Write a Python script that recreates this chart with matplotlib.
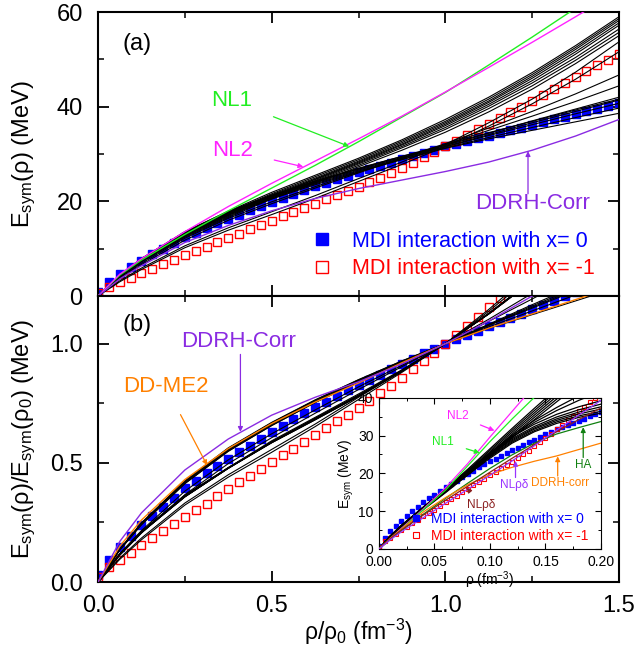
import numpy as np
import matplotlib.pyplot as plt
from matplotlib.ticker import MultipleLocator, FormatStrFormatter

plt.rcParams['font.family'] = ['Liberation Sans', 'DejaVu Sans']
plt.rcParams['mathtext.fontset'] = 'custom'
plt.rcParams['mathtext.rm'] = 'Liberation Sans'
plt.rcParams['mathtext.it'] = 'Liberation Sans:italic'
plt.rcParams['mathtext.default'] = 'regular'

rho0 = 0.16
# MDI points, density step 0.005 fm^-3
rho_mdi = np.arange(49) * 0.005
esym_x0 = [0.9, 2.9, 4.7, 6.1, 7.5, 8.8, 10.0, 11.2, 12.4, 13.4, 14.4, 15.4, 16.3,
           17.2, 18.1, 19.0, 19.9, 20.75, 21.55, 22.35, 23.15, 23.9, 24.65, 25.4,
           26.1, 26.8, 27.5, 28.2, 28.9, 29.6, 30.3, 30.95, 31.6, 32.2, 32.75, 33.3,
           33.9, 34.5, 35.05, 35.6, 36.2, 36.75, 37.3, 37.9, 38.45, 39.0, 39.6, 40.15, 40.7]
esym_xm1 = [0.6, 2.0, 2.9, 3.9, 4.9, 5.8, 6.8, 7.7, 8.6, 9.5, 10.4, 11.4, 12.3, 13.2,
            14.1, 15.0, 15.9, 16.8, 17.7, 18.6, 19.5, 20.4, 21.3, 22.2, 23.1, 24.0,
            25.0, 26.0, 27.1, 28.2, 29.3, 30.4, 31.6, 32.8, 34.0, 35.2, 36.4, 37.6,
            38.8, 40.0, 41.3, 42.5, 43.7, 44.9, 46.2, 47.5, 48.7, 49.9, 51.2]

# other models, E_sym (MeV) at rho/rho0 =
u_grid = [0, 0.0625, 0.125, 0.25, 0.375, 0.5, 0.625, 0.75, 0.875, 1.0,
          1.125, 1.25, 1.375, 1.5]
black_a = [
    [0, 4.4, 7.9, 13.6, 17.9, 21.9, 25.5, 29.1, 33.0, 37.3, 42.0, 47.2, 52.9, 59.0],
    [0, 4.3, 7.8, 13.4, 17.7, 21.6, 25.2, 28.8, 32.7, 36.9, 41.6, 46.8, 52.5, 58.6],
    [0, 4.3, 7.7, 13.2, 17.5, 21.4, 24.9, 28.5, 32.4, 36.6, 41.2, 46.4, 52.1, 58.2],
    [0, 4.2, 7.6, 13.0, 17.3, 21.2, 24.7, 28.3, 32.1, 36.3, 40.9, 46.0, 51.6, 57.7],
    [0, 4.2, 7.5, 12.9, 17.2, 21.1, 24.6, 28.1, 31.9, 36.0, 40.5, 45.5, 51.1, 57.2],
    [0, 4.1, 7.4, 12.7, 17.0, 20.9, 24.4, 27.9, 31.6, 35.6, 40.1, 45.0, 50.4, 56.4],
    [0, 4.0, 7.3, 12.6, 16.8, 20.7, 24.2, 27.6, 31.3, 35.2, 39.6, 44.4, 49.8, 55.7],
    [0, 4.0, 7.2, 12.4, 16.6, 20.5, 23.9, 27.3, 30.8, 34.6, 38.9, 43.7, 49.1, 55.0],
    [0, 4.4, 7.9, 13.5, 17.9, 21.3, 24.3, 27.0, 29.5, 31.8, 34.4, 37.0, 39.5, 42.0],
    [0, 4.3, 7.8, 13.3, 17.7, 21.1, 24.1, 26.8, 29.3, 31.6, 34.1, 36.6, 39.0, 41.4],
    [0, 4.3, 7.7, 13.2, 17.5, 20.9, 23.9, 26.6, 29.1, 31.5, 33.9, 36.2, 38.5, 40.7],
    [0, 4.2, 7.6, 13.0, 17.3, 20.7, 23.7, 26.4, 28.9, 31.3, 33.5, 35.6, 37.7, 39.7],
    [0, 4.2, 7.5, 12.9, 17.1, 20.5, 23.5, 26.2, 28.8, 31.2, 33.2, 35.0, 36.8, 38.6],
    [0, 4.3, 7.7, 13.2, 17.6, 21.0, 24.1, 26.9, 29.5, 32.0, 34.5, 36.9, 39.3, 41.6],
    [0, 3.6, 6.6, 11.8, 16.0, 19.5, 22.8, 26.0, 29.1, 32.2, 35.5, 39.0, 42.7, 46.7],
    [0, 3.8, 6.9, 12.2, 16.4, 19.9, 23.1, 26.2, 29.1, 32.0, 35.0, 38.0, 41.1, 44.4],
    [0, 3.0, 5.6, 10.2, 13.9, 17.2, 20.6, 24.2, 27.8, 31.6, 35.9, 40.6, 45.8, 51.6],
    [0, 3.2, 5.9, 10.6, 14.4, 17.8, 21.2, 24.8, 28.3, 32.0, 36.6, 41.6, 47.3, 53.7],
]
nl1_a = [0, 4.4, 7.6, 13.0, 18.0, 22.8, 27.6, 32.6, 37.8, 43.0, 48.8, 54.7, 60.8, 67.0]
nl2_a = [0, 4.6, 7.9, 13.6, 18.9, 23.8, 28.5, 33.2, 38.0, 43.1, 48.3, 53.6, 59.0, 64.5]
ddrh_a = [0, 3.6, 6.4, 11.3, 14.9, 18.0, 20.6, 22.7, 24.5, 26.3, 28.3, 30.8, 33.8, 37.3]

# panel (b) coloured models, already normalised
ddrh_b = [0, 0.17, 0.29, 0.47, 0.60, 0.70, 0.775, 0.84, 0.915, 1.0, 1.095, 1.2,
          1.31, 1.43]
ddme2_b = [0, 0.15, 0.26, 0.43, 0.56, 0.665, 0.755, 0.835, 0.92, 1.0, 1.065, 1.125,
           1.185, 1.245]

# inset, E_sym (MeV) at rho (fm^-3) =
rho_grid = [0, 0.01, 0.02, 0.04, 0.06, 0.08, 0.10, 0.12, 0.14, 0.16, 0.18, 0.20]
black_in = [
    [0, 3.4, 6.2, 11.1, 15.9, 21.1, 26.5, 31.9, 37.2, 42.4, 47.5, 52.5],
    [0, 3.4, 6.1, 11.0, 15.7, 20.8, 26.1, 31.4, 36.6, 41.7, 46.7, 51.6],
    [0, 3.3, 6.0, 10.8, 15.5, 20.5, 25.7, 30.9, 36.0, 41.0, 45.9, 50.7],
    [0, 3.3, 6.0, 10.7, 15.3, 20.2, 25.3, 30.4, 35.4, 40.3, 45.1, 49.8],
    [0, 3.2, 5.9, 10.6, 15.1, 19.9, 24.9, 29.9, 34.8, 39.6, 44.3, 49.0],
    [0, 3.2, 5.8, 10.4, 14.9, 19.6, 24.5, 29.4, 34.2, 38.9, 43.5, 48.0],
    [0, 3.4, 6.2, 11.1, 15.8, 20.7, 25.4, 29.7, 33.0, 35.6, 37.6, 39.2],
    [0, 3.3, 6.1, 11.0, 15.6, 20.4, 25.0, 29.2, 32.4, 34.9, 36.8, 38.3],
    [0, 3.3, 6.0, 10.9, 15.5, 20.2, 24.8, 28.9, 32.0, 34.4, 36.2, 37.6],
    [0, 3.3, 6.0, 10.8, 15.4, 20.0, 24.5, 28.6, 31.7, 34.0, 35.7, 37.0],
    [0, 3.2, 5.9, 10.7, 15.2, 19.8, 24.3, 28.3, 31.3, 33.6, 35.2, 36.4],
    [0, 3.2, 5.9, 10.6, 15.1, 19.6, 24.0, 28.0, 31.0, 33.2, 34.8, 35.9],
    [0, 3.3, 6.1, 10.9, 15.6, 20.5, 25.4, 30.1, 34.0, 37.4, 40.5, 43.5],
    [0, 3.3, 6.0, 10.8, 15.4, 20.2, 25.0, 29.6, 33.5, 36.6, 39.3, 41.6],
]
nl1_in = [0, 2.6, 5.2, 10.4, 15.6, 22.0, 28.4, 34.4, 40.1, 45.8, 51.5, 57.2]
nl2_in = [0, 2.7, 5.4, 10.6, 16.2, 22.6, 29.6, 36.4, 43.2, 50.0, 56.8, 63.6]
ha_in = [0, 2.5, 4.8, 9.2, 13.4, 17.4, 21.3, 24.9, 28.0, 30.4, 32.1, 33.7]
ddrh_in = [0, 2.8, 5.2, 9.8, 13.6, 17.0, 19.7, 21.6, 23.2, 24.6, 26.3, 28.0]
nlrd_in = [0, 2.4, 4.5, 8.3, 12.1, 15.8, 19.5, 23.3, 27.3, 31.4, 35.4, 39.3]
nlrd2_in = [0, 2.7, 5.0, 9.0, 12.9, 16.6, 20.3, 24.0, 27.6, 31.0, 34.2, 37.3]

c_nl1 = '#22ee22'
c_nl2 = '#ff22ff'
c_ddrh = '#8a2be2'
c_orange = '#ff8000'
c_ha = '#108010'
c_brown = '#8b2020'
c_nlrd = '#9933ff'


def style(ax, big=True):
    ax.tick_params(which='both', direction='in', top=True, right=True)
    if big:
        ax.tick_params(which='major', length=8, width=1.3, labelsize=17)
        ax.tick_params(which='minor', length=4, width=1.1)
        ax.tick_params(axis='y', pad=11)
        ax.tick_params(axis='x', pad=9)
        for s in ax.spines.values():
            s.set_linewidth(1.5)
    else:
        ax.tick_params(which='major', length=4, width=0.8, labelsize=10)
        ax.tick_params(which='minor', length=2, width=0.7)
        ax.tick_params(axis='y', pad=4)
        ax.tick_params(axis='x', pad=4.5)


def arrow(ax, text, xy, xytext, color, fs, shrink=0):
    ax.annotate(text, xy=xy, xytext=xytext, color=color, fontsize=fs,
                ha='center', va='center',
                arrowprops=dict(arrowstyle='-|>', color=color, lw=0.9,
                                mutation_scale=7, shrinkA=shrink, shrinkB=0))


def up_arrow(ax, x, y0, y1, color):
    ax.annotate('', xy=(x, y1), xytext=(x, y0),
                arrowprops=dict(arrowstyle='-|>', color=color, lw=0.9,
                                mutation_scale=7, shrinkA=0, shrinkB=0))


fig = plt.figure(figsize=(6.39, 6.49), dpi=100)
ax_a = fig.add_axes([0.1534, 0.5439, 0.8153, 0.4376])
ax_b = fig.add_axes([0.1534, 0.1032, 0.8153, 0.4407])

u_mdi = rho_mdi / rho0
i0 = u_grid.index(1.0)

# ---- panel (a)
ax_a.plot(u_mdi, esym_x0, 's', color='blue', ms=6, zorder=2,
          label='MDI interaction with x= 0')
ax_a.plot(u_mdi, esym_xm1, 's', color='red', ms=6, mfc='none', mew=1.0, zorder=2,
          label='MDI interaction with x= -1')
for e in black_a:
    ax_a.plot(u_grid, e, '-', color='black', lw=0.8, zorder=3)
ax_a.plot(u_grid, nl1_a, '-', color=c_nl1, lw=1.0, zorder=3)
ax_a.plot(u_grid, nl2_a, '-', color=c_nl2, lw=1.0, zorder=3)
ax_a.plot(u_grid, ddrh_a, '-', color=c_ddrh, lw=1.0, zorder=3)

ax_a.set_xlim(0, 1.5)
ax_a.set_ylim(0, 60)
ax_a.xaxis.set_major_locator(MultipleLocator(0.5))
ax_a.xaxis.set_minor_locator(MultipleLocator(0.25))
ax_a.yaxis.set_major_locator(MultipleLocator(20))
ax_a.yaxis.set_minor_locator(MultipleLocator(10))
style(ax_a)
ax_a.tick_params(labelbottom=False)
ax_a.set_ylabel('E$_{sym}$(ρ) (MeV)', fontsize=17)
ax_a.yaxis.set_label_coords(-0.115, 0.5)

ax_a.text(0.112, 53.2, '(a)', fontsize=17, ha='center', va='center')
arrow(ax_a, 'NL1', (0.723, 31.6), (0.386, 41.3), c_nl1, 16, shrink=14)
arrow(ax_a, 'NL2', (0.591, 27.3), (0.386, 30.8), c_nl2, 16, shrink=14)
ax_a.text(1.252, 19.5, 'DDRH-Corr', color=c_ddrh, fontsize=16,
          ha='center', va='center')
up_arrow(ax_a, 1.238, 21.6, 30.6, c_ddrh)
ax_a.legend(loc='lower right', bbox_to_anchor=(0.99, -0.01), frameon=False,
            fontsize=15.5, markerscale=1.5, handlelength=1.0,
            handletextpad=0.9, labelspacing=0.3,
            labelcolor=['blue', 'red'])

# ---- panel (b)
ax_b.plot(u_mdi, np.array(esym_x0) / esym_x0[32], 's', color='blue', ms=6,
          zorder=2)
ax_b.plot(u_mdi, np.array(esym_xm1) / esym_xm1[32], 's', color='red', ms=6,
          mfc='none', mew=1.0, zorder=2)
for e in black_a:
    ax_b.plot(u_grid, np.array(e) / e[i0], '-', color='black', lw=0.8, zorder=3)
ax_b.plot(u_grid, ddme2_b, '-', color=c_orange, lw=1.0, zorder=3)
ax_b.plot(u_grid, ddrh_b, '-', color=c_ddrh, lw=1.0, zorder=3)

ax_b.set_xlim(0, 1.5)
ax_b.set_ylim(0, 1.2)
ax_b.xaxis.set_major_locator(MultipleLocator(0.5))
ax_b.xaxis.set_minor_locator(MultipleLocator(0.25))
ax_b.yaxis.set_major_locator(MultipleLocator(0.5))
ax_b.yaxis.set_minor_locator(MultipleLocator(0.25))
ax_b.xaxis.set_major_formatter(FormatStrFormatter('%.1f'))
ax_b.yaxis.set_major_formatter(FormatStrFormatter('%.1f'))
style(ax_b)
ax_b.set_ylabel('E$_{sym}$(ρ)/E$_{sym}$(ρ$_0$) (MeV)', fontsize=17)
ax_b.yaxis.set_label_coords(-0.115, 0.5)
ax_b.set_xlabel('ρ/ρ$_0$ (fm$^{-3}$)', fontsize=16.5, labelpad=0)

ax_b.text(0.112, 1.08, '(b)', fontsize=17, ha='center', va='center')
ax_b.text(0.405, 1.01, 'DDRH-Corr', color=c_ddrh, fontsize=16,
          ha='center', va='center')
up_arrow(ax_b, 0.41, 0.955, 0.63, c_ddrh)
arrow(ax_b, 'DD-ME2', (0.314, 0.49), (0.195, 0.82), c_orange, 16, shrink=12)

# ---- inset
ax_in = fig.add_axes([0.5931, 0.1541, 0.3474, 0.2331])
ax_in.plot(rho_mdi, esym_x0, 's', color='blue', ms=3.2, zorder=2,
           label='MDI interaction with x= 0')
ax_in.plot(rho_mdi, esym_xm1, 's', color='red', ms=3.4, mfc='none', mew=0.8,
           zorder=2, label='MDI interaction with x= -1')
for e in black_in:
    ax_in.plot(rho_grid, e, '-', color='black', lw=0.9, zorder=3)
ax_in.plot(rho_grid, nl2_in, '-', color=c_nl2, lw=0.9, zorder=3)
ax_in.plot(rho_grid, nl1_in, '-', color=c_nl1, lw=0.9, zorder=3)
ax_in.plot(rho_grid, ha_in, '-', color=c_ha, lw=0.9, zorder=3)
ax_in.plot(rho_grid, ddrh_in, '-', color=c_orange, lw=0.9, zorder=3)
ax_in.plot(rho_grid, nlrd2_in, '-', color=c_brown, lw=0.9, zorder=3)
ax_in.plot(rho_grid, nlrd_in, '-', color=c_nlrd, lw=0.9, zorder=3)

ax_in.set_xlim(0, 0.2)
ax_in.set_ylim(0, 40)
ax_in.xaxis.set_major_locator(MultipleLocator(0.05))
ax_in.xaxis.set_minor_locator(MultipleLocator(0.025))
ax_in.yaxis.set_major_locator(MultipleLocator(10))
ax_in.yaxis.set_minor_locator(MultipleLocator(5))
ax_in.xaxis.set_major_formatter(FormatStrFormatter('%.2f'))
style(ax_in, big=False)
ax_in.set_xlabel('ρ (fm$^{-3}$)', fontsize=10, labelpad=0)
ax_in.set_ylabel('E$_{sym}$ (MeV)', fontsize=10, labelpad=1)

arrow(ax_in, 'NL2', (0.104, 31.3), (0.071, 35.2), c_nl2, 8.5, shrink=7)
arrow(ax_in, 'NL1', (0.0907, 25.4), (0.058, 28.4), c_nl1, 8.5, shrink=7)
ax_in.text(0.184, 22.2, 'HA', color=c_ha, fontsize=8.5, ha='center', va='center')
up_arrow(ax_in, 0.184, 24.2, 32.2, c_ha)
ax_in.text(0.163, 17.4, 'DDRH-corr', color=c_orange, fontsize=8.5,
           ha='center', va='center')
up_arrow(ax_in, 0.161, 19.3, 24.5, c_orange)
ax_in.text(0.122, 17.0, 'NLρδ', color=c_nlrd, fontsize=8.5, ha='center', va='center')
up_arrow(ax_in, 0.123, 18.9, 23.3, c_nlrd)
arrow(ax_in, 'NLρδ', (0.079, 16.2), (0.092, 11.6), c_brown, 8.5, shrink=5)
ax_in.legend(loc='lower right', bbox_to_anchor=(1.0, -0.04), frameon=False,
             fontsize=10, handlelength=1.0, handletextpad=0.6,
             labelspacing=0.2, markerscale=1.2, labelcolor=['blue', 'red'])

fig.savefig('out.png', dpi=100)
